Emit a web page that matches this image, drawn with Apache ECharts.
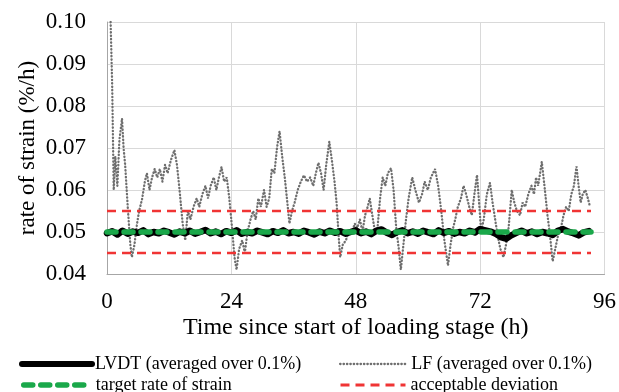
<!DOCTYPE html>
<html>
<head>
<meta charset="utf-8">
<script src="https://cdn.jsdelivr.net/npm/echarts@6/dist/echarts.min.js"></script>
<style>
  html, body { margin: 0; padding: 0; background: #fff; }
  #chart { width: 619px; height: 392px; }
</style>
</head>
<body>
<div id="chart"></div>
<script>
// x ticks (h) and y ticks (%/h)
var xTicks = [0, 24, 48, 72, 96];
var yTicks = [0.04, 0.05, 0.06, 0.07, 0.08, 0.09, 0.10];

// LVDT, one reading per hour from 0 h
var lvdtRate = [
  0.0497, 0.0502, 0.0494, 0.0503, 0.0496, 0.0501, 0.0498, 0.0504, 0.0495, 0.0500,
  0.0497, 0.0503, 0.0499, 0.0494, 0.0501, 0.0497, 0.0503, 0.0496, 0.0500, 0.0505,
  0.0497, 0.0501, 0.0495, 0.0502, 0.0498, 0.0504, 0.0496, 0.0500, 0.0497, 0.0503,
  0.0499, 0.0495, 0.0502, 0.0498, 0.0504, 0.0497, 0.0500, 0.0496, 0.0503, 0.0499,
  0.0494, 0.0501, 0.0497, 0.0503, 0.0498, 0.0502, 0.0496, 0.0500, 0.0504, 0.0497,
  0.0501, 0.0495, 0.0503, 0.0506, 0.0498, 0.0493, 0.0500, 0.0504, 0.0497, 0.0501,
  0.0496, 0.0503, 0.0499, 0.0495, 0.0504, 0.0498, 0.0502, 0.0496, 0.0500, 0.0497,
  0.0503, 0.0499, 0.0507, 0.0504, 0.0501, 0.0496, 0.0488, 0.0484, 0.0492, 0.0498,
  0.0503, 0.0497, 0.0501, 0.0495, 0.0500, 0.0497, 0.0493, 0.0503, 0.0507, 0.0501,
  0.0497, 0.0492, 0.0499, 0.0502
];

// LF readings
var lfHours = [
  0.7, 1.0, 1.3, 1.6, 2.0, 2.4, 2.9, 3.2, 3.5, 4.0, 4.5, 4.8, 5.3, 5.8, 6.2, 6.8, 7.3, 7.7,
  8.2, 8.7, 9.2, 9.7, 10.2, 10.7, 11.2, 11.7, 12.3, 13.0, 13.5, 14.0, 14.6, 15.1, 15.6, 16.1,
  16.7, 17.3, 17.8, 18.4, 19.0, 19.5, 20.0, 20.6, 21.1, 21.6, 22.1, 22.6, 23.1, 23.6, 24.2,
  24.6, 25.0, 25.5, 26.1, 26.6, 27.1, 27.7, 28.2, 28.7, 29.2, 29.7, 30.3, 30.8, 31.3, 31.8,
  32.3, 32.8, 33.3, 33.8, 34.3, 34.8, 35.2, 35.7, 36.2, 36.8, 37.4, 38.0, 38.6, 39.2, 39.8,
  40.3, 40.8, 41.3, 41.8, 42.3, 42.9, 43.4, 43.9, 44.3, 44.7, 45.0, 45.5, 46.1, 46.6, 47.3,
  47.8, 48.3, 48.8, 49.3, 49.8, 50.3, 50.7, 51.2, 51.7, 52.2, 52.7, 53.2, 53.7, 54.2, 54.8,
  55.3, 55.8, 56.3, 56.7, 57.2, 57.7, 58.2, 58.9, 59.5, 60.2, 60.8, 61.3, 61.9, 62.5, 63.3,
  63.9, 64.5, 65.1, 65.8, 66.3, 66.8, 67.2, 67.7, 68.3, 68.8, 69.3, 69.9, 70.4, 70.9, 71.4,
  71.8, 72.2, 72.7, 73.3, 73.9, 74.4, 74.9, 75.4, 75.9, 76.5, 77.0, 77.5, 78.1, 78.6, 79.1,
  79.7, 80.2, 80.7, 81.3, 81.9, 82.4, 82.8, 83.2, 83.9, 84.5, 85.0, 85.5, 86.0, 86.5, 87.0,
  87.6, 88.1, 88.6, 89.1, 89.6, 90.1, 90.6, 91.0, 91.4, 91.8, 92.3, 92.8, 93.2
];
var lfRate = [
  0.100, 0.085, 0.060, 0.068, 0.061, 0.072, 0.077, 0.070, 0.066, 0.056, 0.047, 0.044, 0.047, 0.052, 0.055, 0.058, 0.062, 0.064,
  0.060, 0.063, 0.065, 0.063, 0.065, 0.062, 0.066, 0.064, 0.067, 0.0695, 0.066, 0.060, 0.052, 0.048, 0.055, 0.053,
  0.056, 0.058, 0.056, 0.059, 0.061, 0.058, 0.061, 0.063, 0.060, 0.063, 0.0655, 0.062, 0.063, 0.058, 0.050,
  0.044, 0.041, 0.046, 0.048, 0.045, 0.050, 0.053, 0.055, 0.053, 0.058, 0.056, 0.060, 0.056, 0.058, 0.065,
  0.064, 0.070, 0.074, 0.068, 0.063, 0.057, 0.052, 0.055, 0.057, 0.060, 0.062, 0.0635, 0.062, 0.063, 0.061,
  0.064, 0.0665, 0.064, 0.060, 0.066, 0.0715, 0.067, 0.062, 0.057, 0.049, 0.044, 0.047, 0.048, 0.050, 0.050,
  0.052, 0.051, 0.053, 0.050, 0.054, 0.056, 0.058, 0.054, 0.050, 0.051, 0.058, 0.063, 0.061, 0.064, 0.0652,
  0.060, 0.051, 0.046, 0.041, 0.047, 0.053, 0.058, 0.063, 0.060, 0.057, 0.059, 0.062, 0.060, 0.063, 0.065,
  0.061, 0.055, 0.048, 0.042, 0.047, 0.051, 0.053, 0.056, 0.058, 0.061, 0.059, 0.056, 0.054, 0.059, 0.0636,
  0.057, 0.050, 0.053, 0.059, 0.0617, 0.057, 0.053, 0.049, 0.046, 0.044, 0.047, 0.051, 0.060, 0.057, 0.055,
  0.054, 0.057, 0.056, 0.059, 0.061, 0.059, 0.063, 0.061, 0.0667, 0.060, 0.054, 0.049, 0.043, 0.046, 0.049,
  0.051, 0.054, 0.056, 0.055, 0.059, 0.061, 0.0656, 0.061, 0.057, 0.059, 0.060, 0.058, 0.056
];

// target and acceptable band
var targetRate = 0.05;
var upperRate = 0.055;
var lowerRate = 0.045;
var lineEnd = 93.4;

var font = "Liberation Serif";
var chart = echarts.init(document.getElementById("chart"), null, { renderer: "canvas" });

var lvdtData = lvdtRate.map(function (v, i) { return [i, v]; });
var lfData = lfHours.map(function (h, i) { return [h, lfRate[i]]; });

// line styles shared by series and legend
var lfStyle = { color: "#6e6e6e", width: 2.3, type: [0.4, 3], cap: "round" };
var devStyle = { color: "#f03434", width: 2.5, type: [9, 6] };
var lvdtStyle = { color: "#000", width: 6.5, cap: "round", join: "round" };
var targetStyle = { color: "#1aa84a", width: 5.5, type: [9, 8], cap: "round" };

var noSymbol = { opacity: 0, borderWidth: 0 };

function legendItem(name, left, top, w, style, shift) {
  return {
    data: [name], left: left, top: top, itemWidth: w, itemHeight: 14,
    itemStyle: noSymbol,
    lineStyle: { color: style.color, width: style.width, type: style.type || "solid", cap: style.cap || "butt" },
    textStyle: { fontFamily: font, fontSize: 18, color: "#000", padding: [0, 0, 0, shift] }
  };
}

var option = {
  backgroundColor: "#fff",
  animation: false,
  grid: { left: 107, right: 13, top: 22, bottom: 118 },
  legend: [
    legendItem("LVDT (averaged over 0.1%)", 14, 350, 70, { color: "#000", width: 6, cap: "round" }, -2),
    legendItem("LF (averaged over 0.1%)", 334, 350, 65, lfStyle, 1),
    legendItem("target rate of strain", 16, 371, 68, targetStyle, -1),
    legendItem("acceptable deviation", 334, 371, 65, { color: "#f03434", width: 3, type: [9, 6] }, 0)
  ],
  xAxis: {
    type: "value",
    min: xTicks[0],
    max: xTicks[xTicks.length - 1],
    interval: 24,
    name: "Time since start of loading stage (h)",
    nameLocation: "middle",
    nameGap: 42,
    nameMoveOverlap: false,
    nameTextStyle: { fontFamily: font, fontSize: 24, color: "#000" },
    axisLine: { lineStyle: { color: "#a6a6a6", width: 1 } },
    axisTick: { show: false },
    axisLabel: { fontFamily: font, fontSize: 23, color: "#000", margin: 16 },
    splitLine: { show: true, lineStyle: { color: "#d9d9d9", width: 1 } }
  },
  yAxis: {
    type: "value",
    min: yTicks[0],
    max: yTicks[yTicks.length - 1],
    interval: 0.01,
    name: "rate of strain (%/h)",
    nameLocation: "middle",
    nameRotate: 90,
    nameGap: 68,
    nameMoveOverlap: false,
    nameTextStyle: { fontFamily: font, fontSize: 23, color: "#000" },
    axisLine: { show: true, lineStyle: { color: "#a6a6a6", width: 1 } },
    axisTick: { show: false },
    axisLabel: {
      fontFamily: font, fontSize: 23, color: "#000", margin: 21,
      formatter: function (v) { return v.toFixed(2); }
    },
    splitLine: { show: true, lineStyle: { color: "#d9d9d9", width: 1 } }
  },
  series: [
    {
      name: "LF (averaged over 0.1%)",
      type: "line",
      data: lfData,
      symbol: "none",
      z: 2,
      lineStyle: lfStyle,
      itemStyle: { color: lfStyle.color }
    },
    {
      name: "acceptable deviation",
      type: "line",
      data: [[0, upperRate], [lineEnd, upperRate]],
      symbol: "none",
      z: 3,
      lineStyle: devStyle,
      itemStyle: { color: devStyle.color }
    },
    {
      name: "acceptable deviation",
      type: "line",
      data: [[0, lowerRate], [lineEnd, lowerRate]],
      symbol: "none",
      z: 3,
      lineStyle: devStyle,
      itemStyle: { color: devStyle.color }
    },
    {
      name: "LVDT (averaged over 0.1%)",
      type: "line",
      data: lvdtData,
      symbol: "none",
      z: 4,
      lineStyle: lvdtStyle,
      itemStyle: { color: "#000" }
    },
    {
      name: "target rate of strain",
      type: "line",
      data: [[0, targetRate], [lineEnd, targetRate]],
      symbol: "none",
      z: 5,
      lineStyle: targetStyle,
      itemStyle: { color: targetStyle.color }
    }
  ]
};
chart.setOption(option);
</script>
</body>
</html>
